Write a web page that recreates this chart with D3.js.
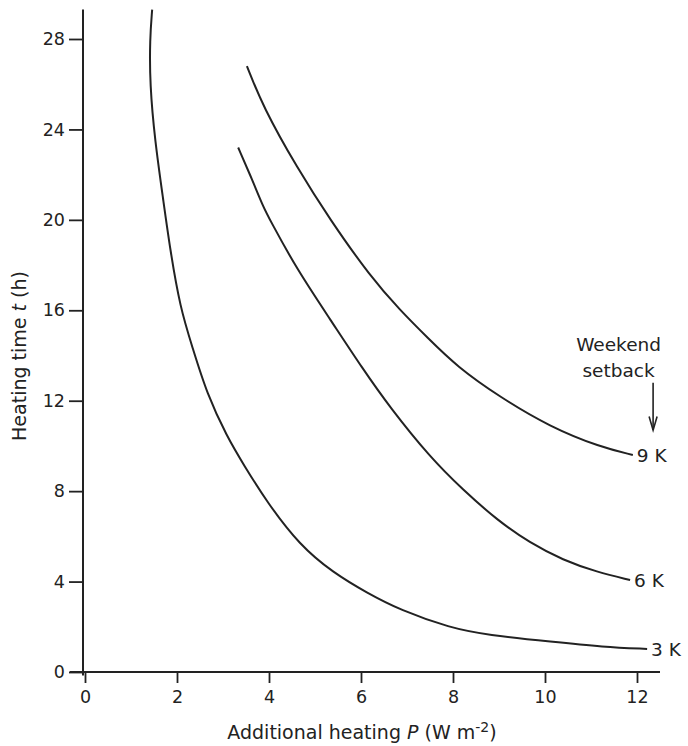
<!DOCTYPE html>
<html>
<head>
<meta charset="utf-8">
<script src="https://cdn.jsdelivr.net/npm/d3@7"></script>
<style>
  body { margin: 0; background: #fff; }
  svg text { font-family: "DejaVu Sans", "Noto Sans", sans-serif; fill: #222; }
</style>
</head>
<body>
<div id="chart"></div>
<script>
// values: [P (W m-2), t (h)]
const curve3K = [
  [1.46, 29.3], [1.41, 28.0], [1.41, 26.0], [1.52, 23.5], [1.70, 20.9],
  [1.85, 18.7], [2.07, 16.1], [2.33, 14.4], [2.65, 12.3], [3.09, 10.4],
  [3.44, 9.2], [3.96, 7.5], [4.67, 5.6], [5.39, 4.4], [6.13, 3.5],
  [6.85, 2.74], [7.94, 1.95], [8.74, 1.64], [10.17, 1.33], [11.26, 1.11], [12.22, 1.02]
];
const curve6K = [
  [3.33, 23.2], [3.63, 21.8], [3.87, 20.6], [4.02, 20.0], [4.61, 17.8],
  [5.33, 15.6], [6.04, 13.4], [6.63, 11.7], [7.50, 9.5], [8.22, 8.05],
  [8.96, 6.72], [9.67, 5.71], [10.39, 4.95], [11.13, 4.42], [11.85, 4.07]
];
const curve9K = [
  [3.52, 26.8], [3.87, 25.0], [4.61, 22.3], [5.33, 20.0], [6.20, 17.5],
  [6.85, 16.0], [7.44, 14.8], [8.09, 13.5], [9.02, 12.16], [10.11, 10.84],
  [11.2, 9.95], [11.91, 9.6]
];
const curveLabels = ['3 K', '6 K', '9 K'];
const xTicks = [0, 2, 4, 6, 8, 10, 12];
const yTicks = [0, 4, 8, 12, 16, 20, 24, 28];

const width = 688, height = 746;

const svg = d3.select('#chart').append('svg')
  .attr('width', width)
  .attr('height', height);

// scales
const x = d3.scaleLinear().domain([0, 12]).range([85, 637]);
const y = d3.scaleLinear().domain([0, 28]).range([672, 39]);

const ink = '#222';
const tickFs = 17.5;
const labelFs = 18.5;

// x axis
const xAxis = svg.append('g')
  .attr('transform', `translate(0,${y(0)})`)
  .call(d3.axisBottom(x).tickValues(xTicks).tickSize(11).tickSizeOuter(0).tickPadding(8));
xAxis.select('.domain').remove();
xAxis.append('line')
  .attr('x1', x(-0.33)).attr('x2', x(12.5))
  .attr('stroke', ink).attr('stroke-width', 2);
xAxis.selectAll('.tick line').attr('stroke', ink).attr('stroke-width', 1.8);
xAxis.selectAll('.tick text').attr('font-size', tickFs).attr('fill', ink);

// y axis
const yAxis = svg.append('g')
  .attr('transform', `translate(${x(0) - 2},0)`)
  .call(d3.axisLeft(y).tickValues(yTicks).tickSize(14).tickSizeOuter(0).tickPadding(4));
yAxis.select('.domain').remove();
yAxis.append('line')
  .attr('y1', y(29.3)).attr('y2', y(-0.15))
  .attr('stroke', ink).attr('stroke-width', 2);
yAxis.selectAll('.tick line').attr('stroke', ink).attr('stroke-width', 1.8);
yAxis.selectAll('.tick text').attr('font-size', tickFs).attr('fill', ink);

// curves
const line = d3.line()
  .x(d => x(d[0]))
  .y(d => y(d[1]))
  .curve(d3.curveBasis);

const curves = [curve3K, curve6K, curve9K];

svg.append('g')
  .selectAll('path')
  .data(curves)
  .join('path')
  .attr('d', line)
  .attr('fill', 'none')
  .attr('stroke', ink)
  .attr('stroke-width', 2);

// curve end labels
svg.append('g')
  .selectAll('text')
  .data(curves)
  .join('text')
  .attr('x', d => x(d[d.length - 1][0]) + 4)
  .attr('y', d => y(d[d.length - 1][1]))
  .attr('dy', '0.36em')
  .attr('font-size', labelFs)
  .text((d, i) => curveLabels[i]);

// weekend setback annotation
const noteX = x(12.35);
svg.append('text')
  .attr('x', x(11.6)).attr('y', y(14.2))
  .attr('text-anchor', 'middle')
  .attr('font-size', labelFs)
  .text('Weekend');
svg.append('text')
  .attr('x', x(11.6)).attr('y', y(13.05))
  .attr('text-anchor', 'middle')
  .attr('font-size', labelFs)
  .text('setback');
svg.append('line')
  .attr('x1', noteX).attr('x2', noteX)
  .attr('y1', y(12.8)).attr('y2', y(10.7))
  .attr('stroke', ink).attr('stroke-width', 1.6);
svg.append('path')
  .attr('d', `M${noteX - 4},${y(11.3)} L${noteX},${y(10.7)} L${noteX + 4},${y(11.3)}`)
  .attr('fill', 'none')
  .attr('stroke', ink)
  .attr('stroke-width', 1.6);

// axis titles
const xTitle = svg.append('text')
  .attr('x', 362).attr('y', 739)
  .attr('text-anchor', 'middle')
  .attr('font-size', 19);
xTitle.append('tspan').text('Additional heating ');
xTitle.append('tspan').attr('font-style', 'italic').text('P');
xTitle.append('tspan').text(' (W m');
xTitle.append('tspan').attr('dy', -7).attr('font-size', 14).text('-2');
xTitle.append('tspan').attr('dy', 7).text(')');

const yTitle = svg.append('text')
  .attr('transform', `translate(26,${356}) rotate(-90)`)
  .attr('text-anchor', 'middle')
  .attr('font-size', 19);
yTitle.append('tspan').text('Heating time ');
yTitle.append('tspan').attr('font-style', 'italic').text('t');
yTitle.append('tspan').text(' (h)');
</script>
</body>
</html>
